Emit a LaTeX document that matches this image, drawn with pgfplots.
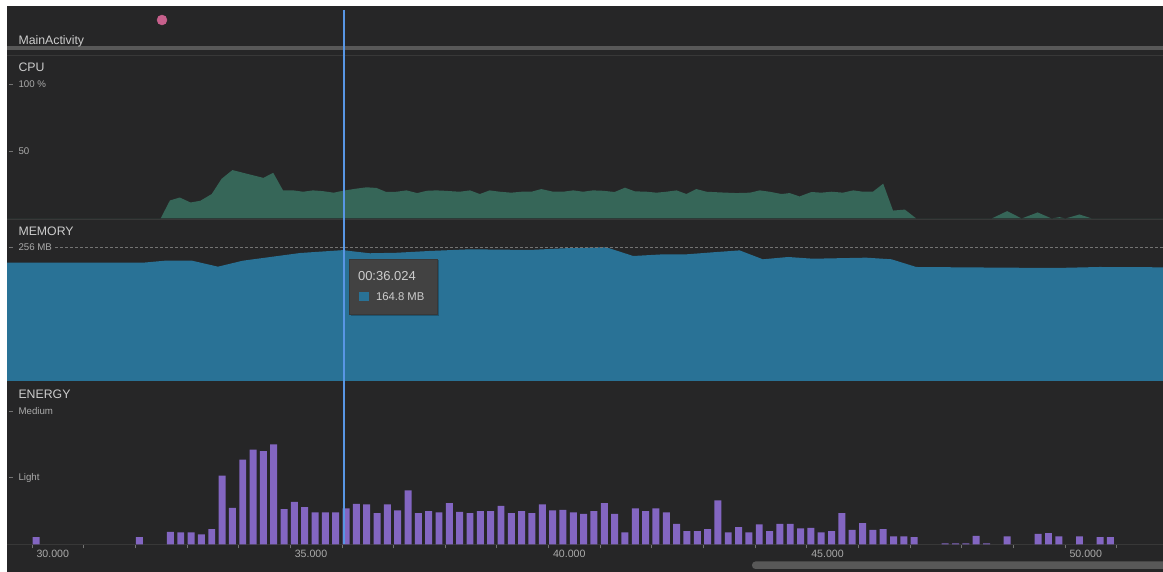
\documentclass[border=0pt]{standalone}
\usepackage{fontspec}
\setmainfont{Liberation Sans}
\usepackage{pgfplots}
\pgfplotsset{compat=1.18}

\definecolor{bg}{RGB}{38,38,39}
\definecolor{cpugreen}{RGB}{54,102,88}
\definecolor{memblue}{RGB}{41,114,150}
\definecolor{enpurple}{RGB}{131,102,194}
\definecolor{cursor}{RGB}{88,150,228}
\definecolor{txt}{RGB}{205,205,205}
\definecolor{ticktxt}{RGB}{170,170,170}
\definecolor{tickc}{RGB}{115,115,115}
\definecolor{sep}{RGB}{56,56,56}
\definecolor{lifebar}{RGB}{88,88,88}
\definecolor{pinkdot}{RGB}{199,96,140}
\definecolor{tipbg}{RGB}{66,66,66}

\newcommand\lab{\fontsize{12.3}{14}\selectfont}
\newcommand\tck{\fontsize{9.7}{11}\selectfont}

\pgfplotsset{
  panel/.style={
    at={(7pt,#1)}, anchor=south west,
    scale only axis, width=1156pt,
    xmin=29.516, xmax=51.897,
    axis line style={draw=none},
    tick align=outside,
    ytick pos=left,
    major tick length=4pt,
    minor tick length=4pt,
    ytick style={color=tickc, line width=0.8pt, xshift=6pt},
    yticklabel style={anchor=west, xshift=12pt, font=\tck, text=ticktxt},
  },
}

\begin{document}
\begin{tikzpicture}[x=1pt,y=1pt]
\fill[white] (0,0) rectangle (1163,572);
\fill[bg] (7,0) rectangle (1163,566);

% activity strip
\begin{axis}[panel=518pt, height=48pt, ymin=0, ymax=1, hide axis, clip=false]
\addplot[line width=4pt, color=lifebar] coordinates {(29.516,0.125) (51.897,0.125)};
\addplot[only marks, mark=*, mark size=5pt, color=pinkdot] coordinates {(32.517,0.708)};
\end{axis}
\draw[sep, line width=0.8pt] (7,517) -- (1163,517);
\node[anchor=west, text=txt, font=\lab] at (15,531) {MainActivity};

% CPU
\begin{axis}[panel=353.5pt, height=163.5pt, ymin=0, ymax=121.6,
  xtick=\empty, ytick={50,100}, yticklabels={50,{100 \%}}]
\addplot[fill=cpugreen, draw=none] coordinates {
(29.516,0) (32.49,0) (32.67,13.4) (32.86,15.6) (33.07,11.9) (33.26,13.2)
(33.48,18.2) (33.67,29.5) (33.88,36) (34.48,30.2) (34.67,34) (34.86,20.9)
(35.06,20.9) (35.25,19.9) (35.44,20.9) (35.64,20.3) (35.84,19.2) (36.06,20.9)
(36.28,22.2) (36.48,23.2) (36.67,22.7) (36.86,19.7) (37.06,19.9) (37.25,20.9)
(37.46,18.9) (37.64,20.6) (37.83,20.9) (37.99,20.6) (38.28,19.9) (38.48,20.9)
(38.67,18.2) (38.86,20.9) (39.06,19.9) (39.28,19.2) (39.48,19.9) (39.67,19.9)
(39.86,21.9) (40.09,19.9) (40.28,19.9) (40.48,20.9) (40.67,19.9) (40.86,20.9)
(41.06,20.6) (41.28,19.7) (41.48,22.9) (41.67,20.2) (41.90,19.9) (42.09,19.2)
(42.28,19.9) (42.48,20.9) (42.67,18.2) (42.86,21.9) (43.06,19.9) (43.32,19.4)
(43.64,18.9) (43.90,19.2) (44.09,20.9) (44.28,19.9) (44.51,18.2) (44.67,18.9)
(44.86,16.4) (45.09,19.7) (45.28,19.2) (45.48,19.9) (45.70,19.2) (45.90,20.9)
(46.09,19.9) (46.28,19.9) (46.48,25.9) (46.67,5.9) (46.90,6.6) (47.12,0)
(48.58,0) (48.88,5.5) (49.16,0) (49.47,4.5) (49.74,0) (49.89,1) (50.01,0)
(50.28,3) (50.52,0) (51.897,0)} \closedcycle;
\end{axis}
\draw[sep, line width=0.8pt] (7,353) -- (1163,353);
\node[anchor=west, text=txt, font=\lab] at (15,504.5) {CPU};

% MEMORY
\begin{axis}[panel=191pt, height=162pt, ymin=0, ymax=309.5,
  xtick=\empty, ytick={128,256}, yticklabels={128,256 MB}]
\addplot[fill=memblue, draw=none] coordinates {
(29.516,226) (32.15,226) (32.57,229.8) (33.10,229.8) (33.60,218.4) (34.08,229.8)
(35.19,244.5) (36.02,250) (36.15,248.4) (36.54,244) (37.06,245) (37.70,248.4)
(38.48,251.6) (39.64,250.3) (40.28,253.5) (41.12,255.4) (41.64,238.8) (42.22,242)
(42.67,242) (43.19,245.9) (43.70,249.5) (44.15,232.5) (44.64,236.9) (45.12,233.6)
(46.15,235.6) (46.64,232.5) (47.12,217.8) (48.86,216.5) (49.83,215.9) (50.67,217.8)
(51.897,217.2)} \closedcycle;
\addplot[tickc, densely dashed, line width=0.6pt] coordinates {(30.45,256) (51.897,256)};
\end{axis}
\node[anchor=west, text=txt, font=\lab] at (15,340.5) {MEMORY};

% ENERGY
\begin{axis}[panel=27.5pt, height=163.5pt, ymin=0, ymax=2.449,
  ytick={1,2}, yticklabels={Light,Medium},
  xtick={30,35,40,45,50}, xticklabels={30.000,35.000,40.000,45.000,50.000},
  minor xtick={31,32,33,34,36,37,38,39,41,42,43,44,46,47,48,49,51},
  xtick pos=bottom,
  xtick style={color=tickc, line width=0.8pt},
  xticklabel style={anchor=north west, xshift=1pt, yshift=1.5pt,
    font=\fontsize{10.6}{12}\selectfont, text=ticktxt}]
\addplot[sep, line width=1pt] coordinates {(29.516,0) (51.897,0)};
\addplot[ybar, bar width=0.135, fill=enpurple, draw=none] coordinates {
(30.08,0.11) (32.08,0.11) (32.68,0.19) (32.88,0.18) (33.08,0.18) (33.28,0.15)
(33.48,0.23) (33.68,1.03) (33.88,0.55) (34.08,1.27) (34.28,1.42) (34.48,1.40)
(34.68,1.50) (34.88,0.53) (35.08,0.64) (35.28,0.56) (35.48,0.48) (35.68,0.48)
(35.88,0.48) (36.08,0.54) (36.28,0.61) (36.48,0.60) (36.68,0.47) (36.88,0.60)
(37.08,0.51) (37.28,0.81) (37.48,0.47) (37.68,0.50) (37.88,0.48) (38.08,0.62)
(38.28,0.49) (38.48,0.47) (38.68,0.50) (38.88,0.50) (39.08,0.58) (39.28,0.47)
(39.48,0.50) (39.68,0.47) (39.88,0.60) (40.08,0.51) (40.28,0.52) (40.48,0.48)
(40.68,0.46) (40.88,0.50) (41.08,0.62) (41.28,0.46) (41.48,0.18) (41.68,0.54)
(41.88,0.50) (42.08,0.54) (42.28,0.48) (42.48,0.31) (42.68,0.20) (42.88,0.20)
(43.08,0.23) (43.28,0.66) (43.48,0.18) (43.68,0.26) (43.88,0.18) (44.08,0.30)
(44.28,0.20) (44.48,0.31) (44.68,0.31) (44.88,0.24) (45.08,0.25) (45.28,0.18)
(45.48,0.20) (45.68,0.47) (45.88,0.22) (46.08,0.32) (46.28,0.22) (46.48,0.23)
(46.68,0.12) (46.88,0.12) (47.08,0.11) (47.68,0.015) (47.88,0.015) (48.08,0.015)
(48.28,0.13) (48.48,0.015) (48.88,0.12) (49.48,0.16) (49.68,0.17) (49.88,0.12)
(50.28,0.12) (50.68,0.11) (50.88,0.11)};
\end{axis}
\node[anchor=west, text=txt, font=\lab] at (15,177.5) {ENERGY};

% cursor and tooltip
\draw[cursor, line width=1.4pt] (344,562) -- (344,27.5);
\fill[black, opacity=0.25] (350.5,255.5) rectangle (439,311.5);
\filldraw[fill=tipbg, draw=sep, line width=0.6pt] (349,258) rectangle (437,313);
\node[anchor=west, text=txt, font=\fontsize{13}{15}\selectfont] at (354.5,296) {00:36.024};
\fill[memblue] (359.3,270.5) rectangle (368.5,279.5);
\node[anchor=west, text=txt, font=\fontsize{11.3}{13}\selectfont] at (372.5,275) {164.8 MB};

% scrollbar
\fill[lifebar, rounded corners=3.5pt] (752,3) rectangle (1170,10.5);

\pgfresetboundingbox
\useasboundingbox (0,0) rectangle (1163,572);
\end{tikzpicture}
\end{document}
